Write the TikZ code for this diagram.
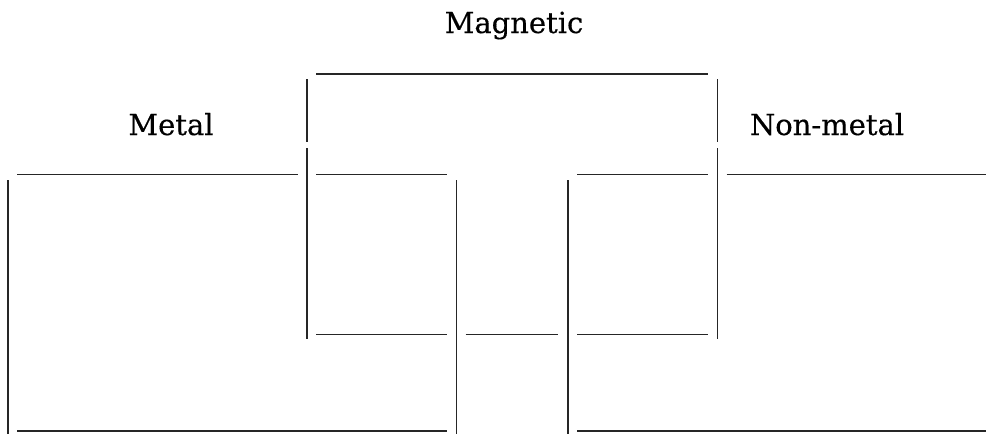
\documentclass[tikz,border=0pt]{standalone}
\usepackage{fontspec}
\setmainfont{DejaVu Serif}
\newfontfamily\lblfont{DejaVu Serif}[BoldFont={DejaVu Serif},BoldFeatures={FakeBold=0.4}]
\begin{document}
\begin{tikzpicture}[x=1pt,y=-1pt,
  seg/.style={draw=black!85,line width=1.6pt},
  lbl/.style={anchor=base,inner sep=0pt,font=\lblfont\bfseries\fontsize{29}{34}\selectfont}]
\useasboundingbox (0,0) rectangle (986,434);
% labels
\node[lbl] (mag) at (514,33) {Magnetic};
\node[lbl] (met) at (171,135) {Metal};
\node[lbl] (non) at (827,135) {Non-metal};
% horizontal segments
\draw[seg] (316,74) -- (708,74);
\draw[seg] (17,174.3) -- (298,174.3);
\draw[seg] (316,174.3) -- (446.7,174.3);
\draw[seg] (577,174.3) -- (708,174.3);
\draw[seg] (726.7,174.3) -- (986,174.3);
\draw[seg] (316,334.3) -- (446.7,334.3);
\draw[seg] (465.7,334.3) -- (558,334.3);
\draw[seg] (577,334.3) -- (708,334.3);
\draw[seg] (17,430.7) -- (446.7,430.7);
\draw[seg] (577,430.7) -- (986,430.7);
% vertical segments
\draw[seg] (8,180) -- (8,434);
\draw[seg] (306.7,79) -- (306.7,142);
\draw[seg] (306.7,148) -- (306.7,339);
\draw[seg] (456.5,180) -- (456.5,434);
\draw[seg] (567.7,180) -- (567.7,434);
\draw[seg] (717.5,79) -- (717.5,142);
\draw[seg] (717.5,148) -- (717.5,339);
\end{tikzpicture}
\end{document}
